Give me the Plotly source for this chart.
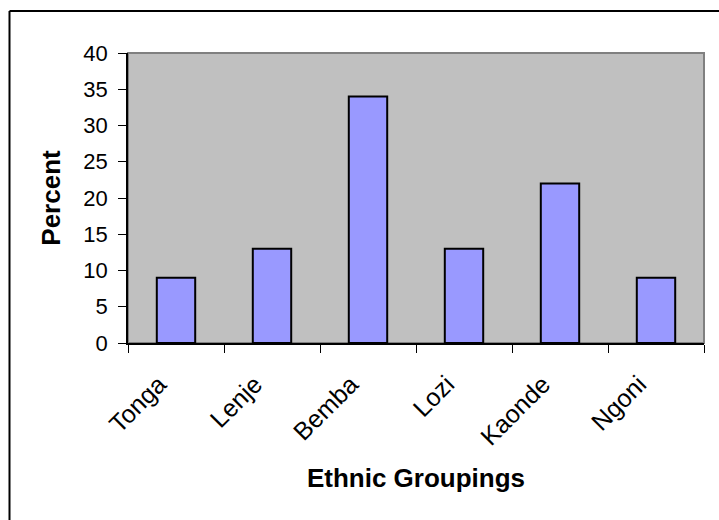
import plotly.graph_objects as go

# Ethnic composition of the sample (percent of respondents)
groups = ["Tonga", "Lenje", "Bemba", "Lozi", "Kaonde", "Ngoni"]
percent = [9, 13, 34, 13, 22, 9]
y_ticks = [0, 5, 10, 15, 20, 25, 30, 35, 40]

W, H = 719, 520
L, R, T, B = 128, 15, 53, 177
pw, ph = W - L - R, H - T - B


def px_x(px):
    return (px - L) / pw


def px_y(py):
    return (H - B - py) / ph


fig = go.Figure(
    go.Bar(
        x=groups,
        y=percent,
        marker=dict(color="#9999FF", line=dict(color="black", width=2)),
        hoverinfo="x+y",
    )
)

frame = dict(color="black", width=2)
fig.update_layout(
    width=W,
    height=H,
    margin=dict(l=L, r=R, t=T, b=B, pad=0),
    paper_bgcolor="white",
    plot_bgcolor="#C0C0C0",
    bargap=0.6,
    showlegend=False,
    font=dict(family="Liberation Sans, Arial, sans-serif", color="black", size=22),
    shapes=[
        # grey frame on the top and right sides of the plot area
        dict(type="rect", xref="paper", yref="paper", x0=0, x1=1, y0=0, y1=1,
             line=dict(color="#808080", width=2), fillcolor="rgba(0,0,0,0)",
             layer="below"),
        # outer chart border: left and top edges
        dict(type="line", xref="paper", yref="paper",
             x0=px_x(9.5), x1=px_x(9.5), y0=px_y(530), y1=px_y(11),
             line=frame, layer="above"),
        dict(type="line", xref="paper", yref="paper",
             x0=px_x(9.5), x1=px_x(730), y0=px_y(11), y1=px_y(11),
             line=frame, layer="above"),
    ],
)

fig.update_xaxes(
    type="category",
    tickangle=-45,
    tickson="boundaries",
    ticks="outside",
    ticklen=8,
    tickwidth=1,
    tickcolor="black",
    ticklabelstandoff=15,
    ticklabelshift=-17,
    showgrid=False,
    showline=True,
    linecolor="black",
    linewidth=1.5,
    zeroline=False,
    tickfont=dict(size=25),
    title=dict(text="<b>Ethnic Groupings</b>", font=dict(size=26), standoff=19),
)

fig.update_yaxes(
    range=[0, 40],
    tickvals=y_ticks,
    ticks="outside",
    ticklen=8,
    tickwidth=1,
    tickcolor="black",
    ticklabelstandoff=6,
    showgrid=False,
    showline=True,
    linecolor="black",
    linewidth=1.5,
    zeroline=False,
    tickfont=dict(size=22),
    title=dict(text="<b>Percent</b>", font=dict(size=26), standoff=15),
)

fig.write_html("out.html")
